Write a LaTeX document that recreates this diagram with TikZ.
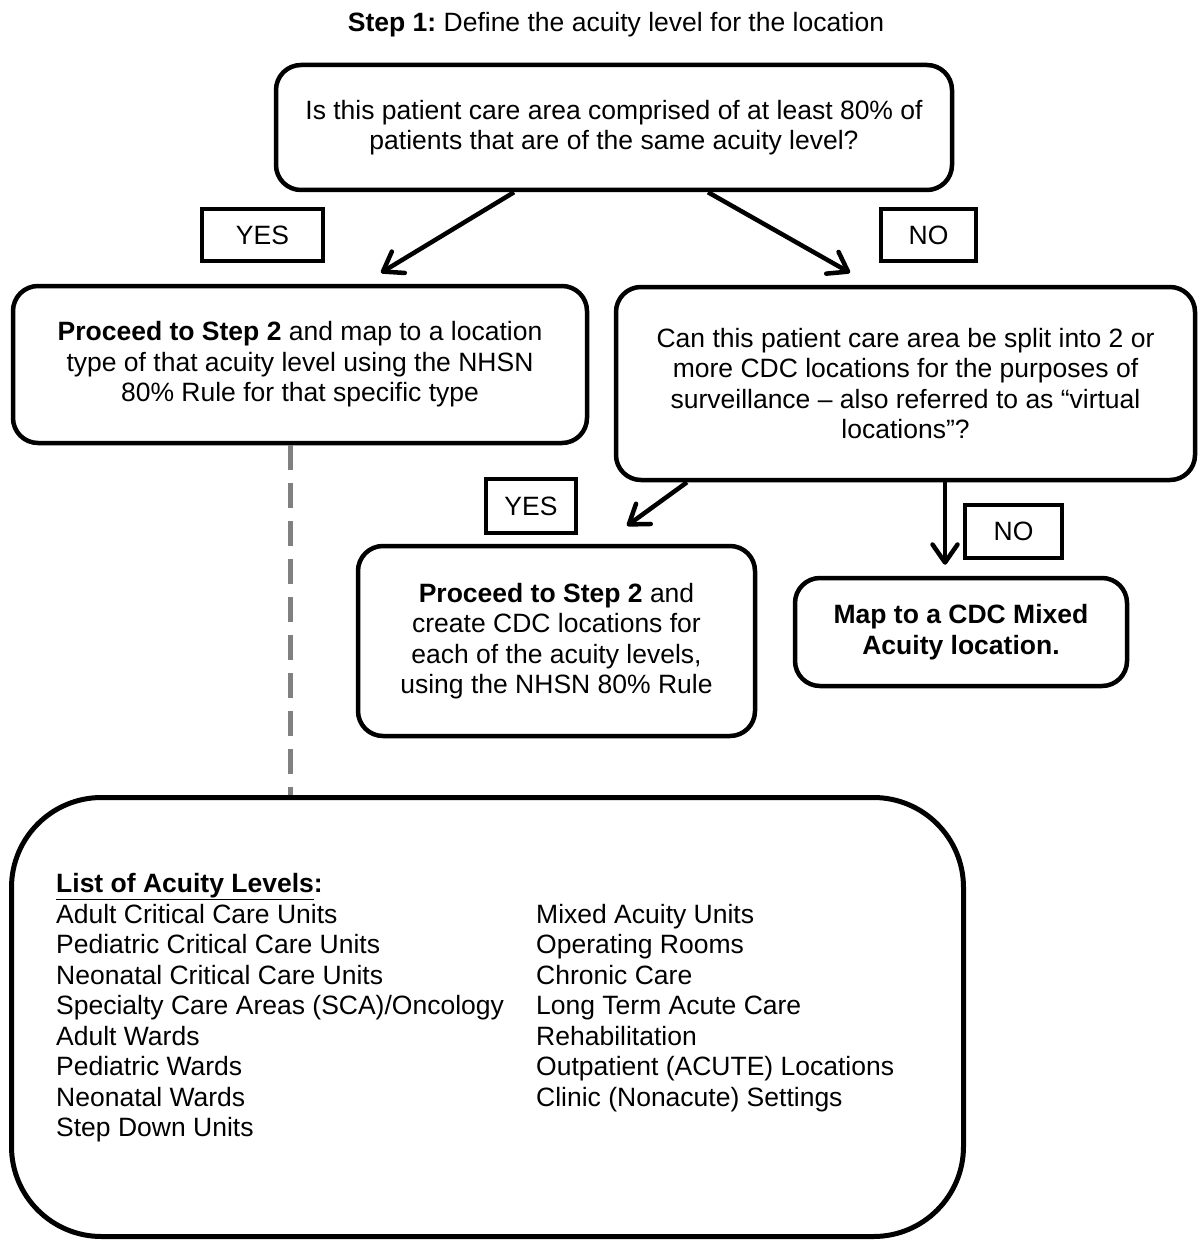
\documentclass[tikz,border=0pt]{standalone}
\usepackage{fontspec}
\setmainfont{Liberation Sans}
\usetikzlibrary{arrows.meta}
\frenchspacing
\newcommand\myfont{\fontsize{26.5pt}{30.5pt}\selectfont}
\tikzset{
  box/.style={draw, line width=4.5pt, rounded corners=25pt, align=center, font=\myfont, inner sep=0pt},
  lbl/.style={draw, line width=4.5pt, font=\myfont, inner sep=0pt},
  arr/.style={line width=4.5pt, -{Straight Barb[length=18pt,width=25pt,line cap=round,line join=round]}},
  dashline/.style={line width=5pt, draw=black!50, dash pattern=on 25pt off 13pt}
}
\begin{document}
\begin{tikzpicture}[x=1pt,y=-1pt]
\fill[white] (0,0) rectangle (1199,1241);
\useasboundingbox (0,0) rectangle (1199,1241);

\node[font=\myfont, anchor=base, inner sep=0pt] (title) at (616,31.5) {\textbf{Step 1:} Define the acuity level for the location};

\node[box, minimum width=676pt, minimum height=125pt] (top) at (614,127.5)
  {Is this patient care area comprised of at least 80\% of\\patients that are of the same acuity level?};

\node[lbl, minimum width=121pt, minimum height=52pt] (yes1) at (262.5,235) {YES};
\node[lbl, minimum width=95pt, minimum height=52pt] (no1) at (928.5,235) {NO};

\node[box, minimum width=574pt, minimum height=157pt] (left) at (300,364.5)
  {\textbf{Proceed to Step 2} and map to a location\\type of that acuity level using the NHSN\\80\% Rule for that specific type};

\node[box, minimum width=579pt, minimum height=193pt] (right) at (905.5,383.5)
  {Can this patient care area be split into 2 or\\more CDC locations for the purposes of\\surveillance – also referred to as “virtual\\locations”?};

\node[lbl, minimum width=90pt, minimum height=54pt] (yes2) at (531,506) {YES};
\node[lbl, minimum width=97pt, minimum height=53pt] (no2) at (1013.5,531.5) {NO};

\node[box, minimum width=397pt, minimum height=190pt] (mid) at (556.5,641)
  {\textbf{Proceed to Step 2} and\\create CDC locations for\\each of the acuity levels,\\using the NHSN 80\% Rule};

\node[box, font=\myfont\bfseries, minimum width=332pt, minimum height=108pt] (mixed) at (961,632)
  {Map to a CDC Mixed\\Acuity location.};

\node[draw, line width=5pt, rounded corners=90pt, minimum width=952pt, minimum height=439pt, inner sep=0pt] (bottom) at (487.5,1017) {};

\node[anchor=north west, inner sep=0pt, font=\myfont] (list) at (56,871)
  {\begin{tabular}{@{}p{480pt}@{}l@{}}
  \underline{\textbf{List of Acuity Levels}}\textbf{:} & \\
  Adult Critical Care Units & Mixed Acuity Units\\
  Pediatric Critical Care Units & Operating Rooms\\
  Neonatal Critical Care Units & Chronic Care\\
  Specialty Care Areas (SCA)/Oncology & Long Term Acute Care\\
  Adult Wards & Rehabilitation\\
  Pediatric Wards & Outpatient (ACUTE) Locations\\
  Neonatal Wards & Clinic (Nonacute) Settings\\
  Step Down Units & \\
  \end{tabular}};

\draw[arr] ([xshift=-100pt]top.south) -- ([xshift=81pt,yshift=11pt]left.north);
\draw[arr] ([xshift=94pt]top.south) -- ([xshift=-55.5pt,yshift=12pt]right.north);
\draw[arr] ([xshift=-218.5pt]right.south) -- ([xshift=70.5pt,yshift=18pt]mid.north);
\draw[arr] ([xshift=39.5pt]right.south) -- ([xshift=-16pt,yshift=11pt]mixed.north);
\draw[dashline] ([xshift=-10pt]left.south) -- ([xshift=-10pt]left.south |- bottom.north);
\end{tikzpicture}
\end{document}
